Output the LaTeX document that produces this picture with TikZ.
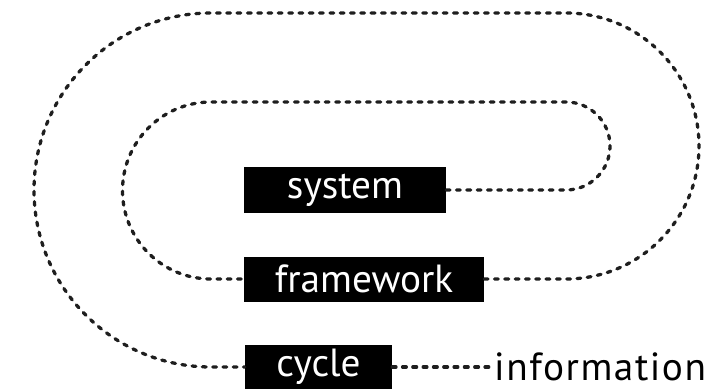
\documentclass[tikz,border=0pt]{standalone}
\usepackage{fontspec}
\setmainfont{PT Sans}
\usepackage{tikz}
\usetikzlibrary{calc}

\definecolor{ink}{HTML}{1E1E1E}

\tikzset{
  label box/.style={fill=black, text=white, inner sep=0pt,
    minimum height=1.35cm, font=\fontsize{33.5}{38}\selectfont},
  loop line/.style={draw=ink, line width=2.8pt, line cap=round,
    dash pattern=on 3.2pt off 5.6pt},
}

\begin{document}
\begin{tikzpicture}[x=0.03cm, y=0.03cm]
  \useasboundingbox (0,0) rectangle (710,388);

  \node[label box, minimum width=6.06cm] (system) at (345,198) {system};
  \node[label box, minimum width=7.2cm] (framework) at (364,109) {framework};
  \node[label box, minimum width=4.41cm] (cycle) at (318.5,21) {cycle};
  \node[anchor=west, inner sep=0pt,
    font=\fontsize{33.5}{38}\selectfont\addfontfeature{LetterSpace=4}] (info) at (494,21) {information};

  % inner turn
  \draw[loop line] (system.east) -- (566,198)
    arc[start angle=-90, end angle=90, radius=44] -- (211,286)
    arc[start angle=90, end angle=270, radius=88.5] -- (framework.west);

  % outer turn
  \draw[loop line] (framework.east) -- (566,109)
    arc[start angle=-90, end angle=90, radius=133] -- (211,375)
    arc[start angle=90, end angle=270, radius=177] -- (cycle.west);

  \draw[loop line] (cycle) -- (info);

\end{tikzpicture}
\end{document}
